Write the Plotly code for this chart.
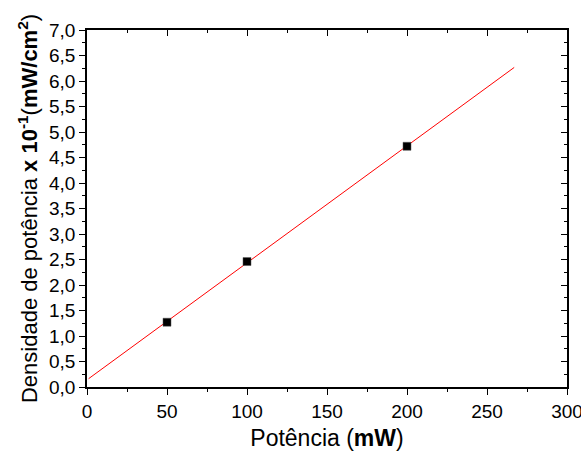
import numpy as np
import plotly.graph_objects as go

# Measured power density vs. laser power
potencia = [50, 100, 200]          # mW
densidade = [1.27, 2.46, 4.72]     # x 10^-1 mW/cm^2

# Linear fit drawn over the measured range and beyond
fit_x_range = [1, 267]
slope, intercept = np.polyfit(potencia, densidade, 1)
fit_x = np.array(fit_x_range, dtype=float)
fit_y = slope * fit_x + intercept

x_ticks = [0, 50, 100, 150, 200, 250, 300]
y_ticks = [round(0.5 * i, 1) for i in range(15)]
y_tick_text = [f"{v:.1f}".replace(".", ",") for v in y_ticks]

font_family = "Liberation Sans, Arial, sans-serif"

fig = go.Figure()
fig.add_trace(go.Scatter(
    x=fit_x, y=fit_y, mode="lines",
    line=dict(color="#ff0000", width=1), showlegend=False,
))
fig.add_trace(go.Scatter(
    x=potencia, y=densidade, mode="markers",
    marker=dict(symbol="square", size=8, color="black",
                line=dict(color="#555555", width=0.5)),
    showlegend=False,
))

axis_common = dict(
    showgrid=False, zeroline=False, showline=True, automargin=False,
    linecolor="black", linewidth=1.5, tickcolor="black",
    tickwidth=1.2,
)

fig.update_layout(
    width=581, height=454,
    margin=dict(l=87, r=14, t=30, b=67),
    paper_bgcolor="white", plot_bgcolor="white",
    font=dict(family=font_family, color="black", size=19),
    xaxis=dict(
        **axis_common, range=[0, 300], tickvals=x_ticks,
        ticks="outside", ticklen=6, ticklabeloverflow="allow",
        minor=dict(dtick=25, ticks="outside", ticklen=3,
                   tickcolor="black", tickwidth=1.2),
        tickfont=dict(size=19),
        title=dict(text="Potência (<b>mW</b>)", font=dict(size=23), standoff=9),
    ),
    yaxis=dict(
        **axis_common, range=[0, 7], tickvals=y_ticks, ticktext=y_tick_text,
        ticks="outside", ticklen=6, ticklabeloverflow="allow",
        minor=dict(dtick=0.25, ticks="outside", ticklen=3,
                   tickcolor="black", tickwidth=1.2),
        tickfont=dict(size=19),
        title=dict(
            text="Densidade de potência <b>x 10<sup>-1</sup></b>(<b>mW/cm<sup>2</sup></b>)",
            font=dict(size=22), standoff=5,
        ),
    ),
    xaxis2=dict(
        **axis_common, overlaying="x", side="top", matches="x",
        range=[0, 300], tickvals=x_ticks, showticklabels=False,
        ticks="inside", ticklen=6,
        minor=dict(dtick=25, ticks="inside", ticklen=3,
                   tickcolor="black", tickwidth=1.2),
    ),
    yaxis2=dict(
        **axis_common, overlaying="y", side="right", matches="y",
        range=[0, 7], tickvals=y_ticks, showticklabels=False,
        ticks="inside", ticklen=6,
        minor=dict(dtick=0.25, ticks="inside", ticklen=3,
                   tickcolor="black", tickwidth=1.2),
    ),
)

# Invisible trace to activate the mirrored top/right axes
fig.add_trace(go.Scatter(x=[None], y=[None], xaxis="x2", yaxis="y2",
                         showlegend=False, hoverinfo="skip"))

fig.write_html("out.html")
